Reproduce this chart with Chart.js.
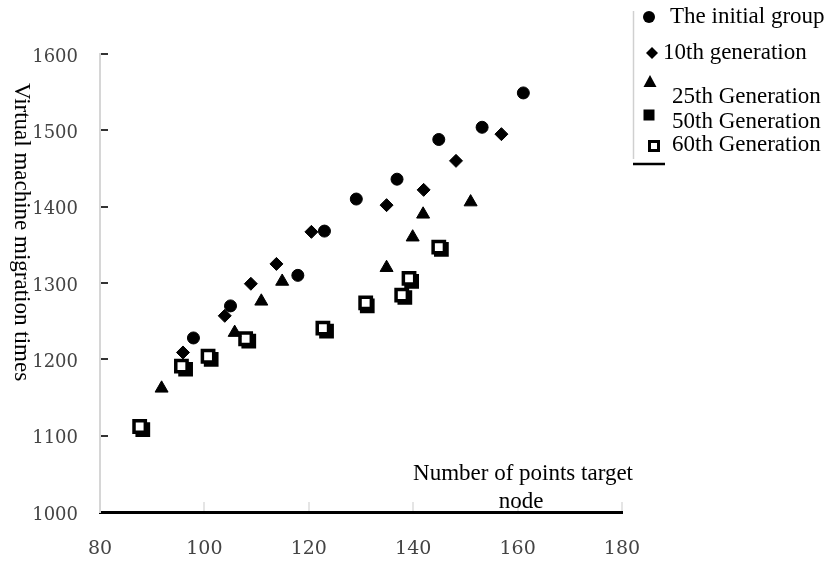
<!DOCTYPE html>
<html>
<head>
<meta charset="utf-8">
<script src="https://cdn.jsdelivr.net/npm/chart.js@4.4.1/dist/chart.umd.min.js"></script>
<style>
  html, body { margin: 0; padding: 0; background: #fff; }
  #wrap { width: 830px; height: 565px; }
</style>
</head>
<body>
<div id="wrap"><canvas id="myChart" width="830" height="565"></canvas></div>
<script>
// series
const seriesNames = [
  "The initial group",
  "10th generation",
  "25th Generation",
  "50th Generation",
  "60th Generation",
];

const initialX = [97.9, 105.0, 117.9, 123.0, 129.1, 136.9, 144.9, 153.2, 161.1];
const initialY = [1228, 1270, 1310, 1368, 1410, 1436, 1488, 1504, 1549];

const gen10X = [95.9, 103.9, 108.9, 113.8, 120.5, 134.9, 142.0, 148.2, 156.9];
const gen10Y = [1209, 1257, 1299, 1325, 1367, 1402, 1422, 1460, 1495];

const gen25X = [91.8, 105.8, 110.9, 114.9, 134.9, 139.9, 141.9, 151.0];
const gen25Y = [1162, 1235, 1276, 1302, 1320, 1360, 1390, 1406];

const gen50X = [88.2, 96.4, 101.3, 108.5, 123.4, 131.2, 138.4, 139.7, 145.4];
const gen50Y = [1108, 1187, 1200, 1224, 1237, 1270, 1281, 1302, 1344];

const gen60X = [87.6, 95.6, 100.7, 107.9, 122.7, 130.9, 137.8, 139.2, 144.9];
const gen60Y = [1112, 1191, 1204, 1227, 1241, 1274, 1284, 1306, 1347];

const xTitle = ["Number of points target", "node"];
const yTitle = "Virtual machine migration times";

// axis ranges
const xMin = 80, xMax = 180, xStep = 20;
const yMin = 1000, yMax = 1600, yStep = 100;

function toPoints(xs, ys) {
  return xs.map((x, i) => ({ x: x, y: ys[i] }));
}

const textFont = "'Liberation Serif', 'Times New Roman', serif";

// drawing a legend marker by hand
function legendMarker(ctx, kind, x, y) {
  ctx.save();
  ctx.fillStyle = "#000";
  ctx.strokeStyle = "#000";
  ctx.beginPath();
  if (kind == "circle") {
    ctx.arc(x, y, 6, 0, Math.PI * 2);
    ctx.fill();
  } else if (kind == "diamond") {
    ctx.moveTo(x, y - 6);
    ctx.lineTo(x + 6, y);
    ctx.lineTo(x, y + 6);
    ctx.lineTo(x - 6, y);
    ctx.closePath();
    ctx.fill();
  } else if (kind == "triangle") {
    ctx.moveTo(x, y - 7);
    ctx.lineTo(x + 6.5, y + 5);
    ctx.lineTo(x - 6.5, y + 5);
    ctx.closePath();
    ctx.fill();
  } else if (kind == "square") {
    ctx.fillRect(x - 5.5, y - 5.5, 11, 11);
  } else {
    ctx.lineWidth = 3;
    ctx.strokeRect(x - 4.5, y - 4.5, 9, 9);
  }
  ctx.restore();
}

const decorPlugin = {
  id: "decor",
  afterDraw(chart) {
    const ctx = chart.ctx;
    const xs = chart.scales.x;
    const ys = chart.scales.y;
    const area = chart.chartArea;

    ctx.save();
    // little dark ticks inside the plot along the y axis
    ctx.strokeStyle = "#333";
    ctx.lineWidth = 2;
    ys.ticks.forEach((t) => {
      if (t.value == yMin) return;
      const py = Math.round(ys.getPixelForValue(t.value));
      ctx.beginPath();
      ctx.moveTo(area.left + 1, py);
      ctx.lineTo(area.left + 8, py);
      ctx.stroke();
    });
    // faint ticks rising from the x axis
    ctx.strokeStyle = "#dcdcdc";
    ctx.lineWidth = 1.5;
    xs.ticks.forEach((t) => {
      if (t.value == xMin) return;
      const px = Math.round(xs.getPixelForValue(t.value));
      ctx.beginPath();
      ctx.moveTo(px, area.bottom - 1);
      ctx.lineTo(px, area.bottom - 10);
      ctx.stroke();
    });

    // axis titles
    ctx.fillStyle = "#000";
    ctx.font = "23px " + textFont;
    ctx.textAlign = "center";
    ctx.textBaseline = "alphabetic";
    ctx.fillText(xTitle[0], 523, 480);
    ctx.fillText(xTitle[1], 521, 508);

    ctx.save();
    ctx.translate(21, 232);
    ctx.rotate(Math.PI / 2);
    ctx.textBaseline = "middle";
    ctx.fillText(yTitle, 0, 0);
    ctx.restore();

    // legend
    const marks = ["circle", "diamond", "triangle", "square", "open"];
    const markPos = [[649, 17], [652, 53], [650, 82], [649, 115], [654, 146]];
    const textPos = [[670, 17], [663, 53], [672, 97], [672, 122], [672, 145]];
    ctx.strokeStyle = "#d0d0d0";
    ctx.lineWidth = 1.5;
    ctx.beginPath();
    ctx.moveTo(633.5, 11);
    ctx.lineTo(633.5, 159);
    ctx.stroke();
    ctx.strokeStyle = "#000";
    ctx.lineWidth = 2.5;
    ctx.beginPath();
    ctx.moveTo(633, 164);
    ctx.lineTo(665, 164);
    ctx.stroke();

    ctx.textAlign = "left";
    ctx.textBaseline = "middle";
    ctx.font = "23px " + textFont;
    seriesNames.forEach((name, i) => {
      legendMarker(ctx, marks[i], markPos[i][0], markPos[i][1]);
      ctx.fillStyle = "#000";
      ctx.fillText(name, textPos[i][0], textPos[i][1]);
    });
    ctx.restore();
  },
};

let ctx = document.getElementById("myChart").getContext("2d");
let myChart = new Chart(ctx, {
  type: "scatter",
  data: {
    datasets: [
      {
        label: seriesNames[0],
        data: toPoints(initialX, initialY),
        pointStyle: "circle",
        pointRadius: 6,
        backgroundColor: "#000",
        borderColor: "#000",
        borderWidth: 1,
      },
      {
        label: seriesNames[1],
        data: toPoints(gen10X, gen10Y),
        pointStyle: "rectRot",
        pointRadius: 6.5,
        backgroundColor: "#000",
        borderColor: "#000",
        borderWidth: 1,
      },
      {
        label: seriesNames[2],
        data: toPoints(gen25X, gen25Y),
        pointStyle: "triangle",
        pointRadius: 7.5,
        backgroundColor: "#000",
        borderColor: "#000",
        borderWidth: 1,
      },
      {
        label: seriesNames[3],
        data: toPoints(gen50X, gen50Y),
        pointStyle: "rect",
        pointRadius: 9,
        backgroundColor: "#000",
        borderColor: "#000",
        borderWidth: 2,
        order: 1,
      },
      {
        label: seriesNames[4],
        data: toPoints(gen60X, gen60Y),
        pointStyle: "rect",
        pointRadius: 8,
        backgroundColor: "#fff",
        borderColor: "#000",
        borderWidth: 3.5,
      },
    ],
  },
  options: {
    responsive: false,
    animation: false,
    devicePixelRatio: 1,
    layout: { padding: { top: 54, right: 208, left: 0, bottom: 0 } },
    plugins: {
      legend: { display: false },
      tooltip: { enabled: false },
    },
    scales: {
      x: {
        type: "linear",
        min: xMin,
        max: xMax,
        afterFit: (scale) => { scale.height = 53; },
        ticks: {
          stepSize: xStep,
          padding: 26,
          color: "#444",
          font: { family: "'DejaVu Serif', serif", size: 19 },
          callback: (v) => String(v),
        },
        grid: { display: true, drawOnChartArea: false, drawTicks: false },
        border: { display: true, color: "#000", width: 3 },
      },
      y: {
        type: "linear",
        min: yMin,
        max: yMax,
        afterFit: (scale) => { scale.width = 100; },
        ticks: {
          stepSize: yStep,
          padding: 22,
          labelOffset: 3,
          color: "#444",
          font: { family: "'DejaVu Serif', serif", size: 18 },
          callback: (v) => String(v),
        },
        grid: { display: true, drawOnChartArea: false, drawTicks: false },
        border: { display: true, color: "#d6d6d6", width: 2 },
      },
    },
  },
  plugins: [decorPlugin],
});
</script>
</body>
</html>
